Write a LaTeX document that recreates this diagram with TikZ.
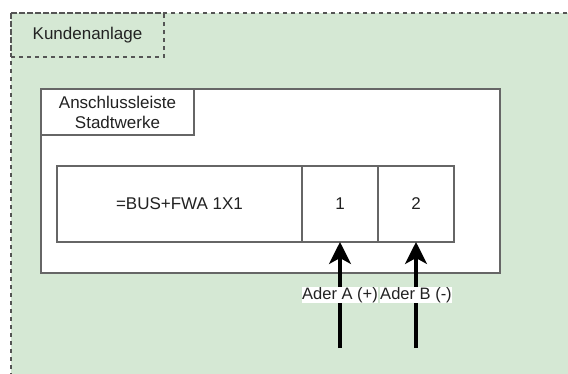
\documentclass[tikz,border=0pt]{standalone}
\usepackage{fontspec}
\setmainfont{Liberation Sans}
\usetikzlibrary{arrows.meta}
\definecolor{grfill}{HTML}{D5E8D4}
\definecolor{bord}{HTML}{666666}
\definecolor{dashc}{HTML}{555555}
\definecolor{txt}{HTML}{222222}
\tikzset{
  dashbox/.style={draw=dashc, line width=2pt, dash pattern=on 4pt off 4pt},
  plainbox/.style={draw=bord, line width=2pt, fill=white},
  cell/.style={draw=bord, line width=2pt, fill=white, minimum height=76pt, inner sep=0pt, outer sep=0pt, font=\fontsize{17}{20}\selectfont, text=txt},
  lbl/.style={font=\fontsize{17}{20}\selectfont, text=txt, align=center},
  wire/.style={line width=3.2pt, -{Stealth[length=22pt,width=22pt,inset=6pt]}},
  wirelbl/.style={fill=white, inner sep=0.5pt, font=\fontsize{16.5}{20}\selectfont, text=txt}
}
\begin{document}
\begin{tikzpicture}[x=1pt,y=-1pt]
\useasboundingbox (0,0) rectangle (568,373);
\begin{scope}
\clip (0,0) rectangle (568,373);
\fill[grfill] (11,13) rectangle (590,400);
\draw[dashbox] (11,13) rectangle (590,400);
\end{scope}
\node[dashbox, minimum width=153pt, minimum height=44pt, inner sep=0pt, outer sep=0pt, lbl] (kunde) at (87.5,35) {Kundenanlage};
\draw[plainbox] (41,89) rectangle (500,273);
\node[plainbox, minimum width=153pt, minimum height=46pt, inner sep=0pt, outer sep=0pt, lbl] (leiste) at (117.5,112) {Anschlussleiste\\Stadtwerke};
\node[cell, minimum width=245pt] (bus) at (179.5,204) {=BUS+FWA 1X1};
\node[cell, minimum width=76pt, anchor=west] (c1) at (bus.east) {1};
\node[cell, minimum width=76pt, anchor=west] (c2) at (c1.east) {2};
\coordinate (a1) at (c1.south |- 0,348);
\coordinate (a2) at (c2.south |- 0,348);
\draw[wire] (a1) -- node[wirelbl, pos=0.5] (la) {Ader A (+)} (c1.south);
\draw[wire] (a2) -- node[wirelbl, pos=0.5] (lb) {Ader B (-)} (c2.south);
\end{tikzpicture}
\end{document}
